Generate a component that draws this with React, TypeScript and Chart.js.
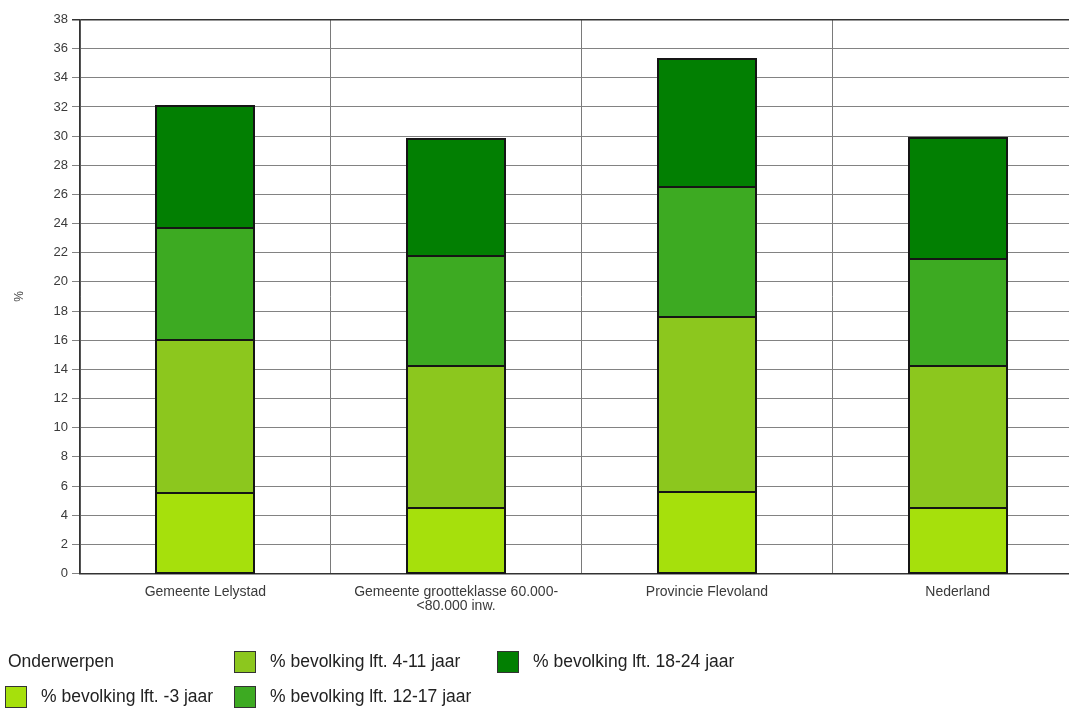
import React, { useEffect, useRef } from "react";
import { Chart, registerables } from "chart.js";

Chart.register(...registerables);

// Regions shown along the x axis (multi-line labels are arrays)
const categories: (string | string[])[] = [
  "Gemeente Lelystad",
  ["Gemeente grootteklasse 60.000-", "<80.000 inw."],
  "Provincie Flevoland",
  "Nederland",
];

// Share of population per age group, in %
const ageUnder3 = [5.5, 4.5, 5.6, 4.5];
const age4to11 = [10.5, 9.7, 12.0, 9.7];
const age12to17 = [7.7, 7.6, 8.9, 7.4];
const age18to24 = [8.4, 8.0, 8.8, 8.3];

const seriesNames = [
  "% bevolking lft. -3 jaar",
  "% bevolking lft. 4-11 jaar",
  "% bevolking lft. 12-17 jaar",
  "% bevolking lft. 18-24 jaar",
];

const yTicks = [0, 2, 4, 6, 8, 10, 12, 14, 16, 18, 20, 22, 24, 26, 28, 30, 32, 34, 36, 38];

const legendTitle = "Onderwerpen";
const yAxisTitle = "%";

const seriesColors = ["#a6e00c", "#8cc71e", "#3daa22", "#027f02"];

// Legend grid slots: [left, top] of each entry, in series order
const legendSlots: [number, number][] = [
  [5, 685],
  [234, 650],
  [234, 685],
  [497, 650],
];

const FONT = "'Liberation Sans', Arial, sans-serif";

// Strokes one crisp outline around every stacked segment, so shared edges stay a single line
const segmentOutline = {
  id: "segmentOutline",
  afterDatasetsDraw(chart: any) {
    const ctx = chart.ctx;
    ctx.save();
    ctx.strokeStyle = "#151515";
    ctx.lineWidth = 2;
    chart.data.datasets.forEach((_: any, di: number) => {
      const meta = chart.getDatasetMeta(di);
      meta.data.forEach((bar: any) => {
        const { x, y, base, width } = bar.getProps(["x", "y", "base", "width"], true);
        const left = Math.round(x - width / 2);
        const right = Math.round(x + width / 2);
        const top = Math.round(Math.min(y, base));
        const bottom = Math.round(Math.max(y, base));
        ctx.strokeRect(left, top, right - left, bottom - top);
      });
    });
    ctx.restore();
  },
};

export default function App() {
  const canvasRef = useRef<HTMLCanvasElement | null>(null);

  useEffect(() => {
    const canvas = canvasRef.current;
    if (!canvas) return;
    const seriesValues = [ageUnder3, age4to11, age12to17, age18to24];
    const chart = new Chart(canvas, {
      type: "bar",
      data: {
        labels: categories,
        datasets: seriesValues.map((values, i) => ({
          label: seriesNames[i],
          data: values,
          backgroundColor: seriesColors[i],
          borderWidth: 0,
          barPercentage: 0.39,
          categoryPercentage: 1,
        })),
      },
      plugins: [segmentOutline],
      options: {
        responsive: false,
        animation: false,
        devicePixelRatio: 1,
        layout: { padding: { top: 19.5, left: 0, right: 0, bottom: 80.5 } },
        plugins: {
          legend: { display: false },
          tooltip: { enabled: false },
        },
        scales: {
          x: {
            stacked: true,
            afterFit: (scale: any) => {
              scale.height = 55;
            },
            grid: {
              offset: true,
              color: "#7a7a7a",
              lineWidth: 1,
              drawTicks: false,
            },
            border: { display: true, color: "#333", width: 1.5 },
            ticks: {
              color: "#3a3a3a",
              padding: 11,
              font: { family: FONT, size: 14, lineHeight: 1.05 },
              maxRotation: 0,
              autoSkip: false,
            },
          },
          y: {
            stacked: true,
            min: 0,
            max: 38,
            afterFit: (scale: any) => {
              scale.width = 80;
            },
            afterBuildTicks: (scale: any) => {
              scale.ticks = yTicks.map((v) => ({ value: v }));
            },
            grid: {
              color: (ctx: any) => (ctx.tick && ctx.tick.value === 38 ? "#333" : "#828282"),
              lineWidth: (ctx: any) => (ctx.tick && ctx.tick.value === 38 ? 1.5 : 1),
              drawTicks: true,
              tickLength: 8,
            },
            border: { display: true, color: "#333", width: 1.5 },
            ticks: {
              color: "#3a3a3a",
              padding: 4,
              font: { family: FONT, size: 13 },
            },
            title: {
              display: true,
              text: yAxisTitle,
              color: "#444",
              padding: { top: 12, bottom: 0 },
              font: { family: FONT, size: 12 },
            },
          },
        },
      },
    });
    return () => chart.destroy();
  }, []);

  return (
    <div
      style={{
        position: "fixed",
        left: 0,
        top: 0,
        width: 1069,
        height: 709,
        overflow: "hidden",
        background: "#fff",
      }}
    >
      <canvas ref={canvasRef} width={1083} height={709} style={{ display: "block" }} />
      <div
        style={{
          position: "absolute",
          left: 8,
          top: 650,
          height: 23,
          lineHeight: "23px",
          fontFamily: FONT,
          fontSize: 17.5,
          color: "#222",
        }}
      >
        {legendTitle}
      </div>
      {seriesNames.map((name, i) => (
        <div
          key={name}
          style={{
            position: "absolute",
            left: legendSlots[i][0],
            top: legendSlots[i][1],
            height: 23,
            display: "flex",
            alignItems: "center",
            fontFamily: FONT,
            fontSize: 17.5,
            color: "#222",
            whiteSpace: "nowrap",
          }}
        >
          <span
            style={{
              display: "inline-block",
              width: 22,
              height: 22,
              boxSizing: "border-box",
              border: "1px solid #333",
              background: seriesColors[i],
              marginRight: 14,
            }}
          />
          {name}
        </div>
      ))}
    </div>
  );
}
